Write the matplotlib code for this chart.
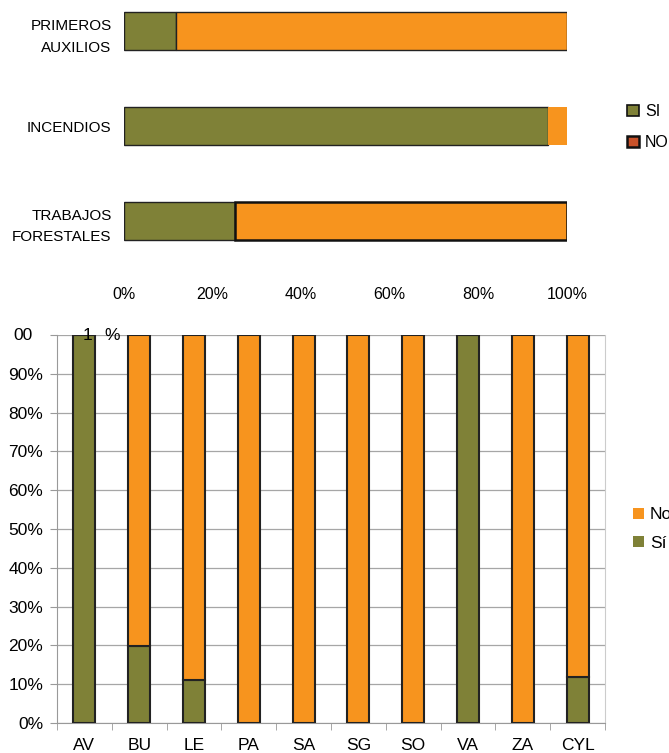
import matplotlib
matplotlib.use('Agg')
import matplotlib.pyplot as plt
from matplotlib.patches import Patch
import numpy as np

# datos del gráfico superior (% de formación)
top_categories = ['PRIMEROS\nAUXILIOS', 'INCENDIOS', 'TRABAJOS\nFORESTALES']
top_si = [11.7, 95.7, 25.0]
top_no = [88.3, 4.3, 75.0]

# datos del gráfico inferior (por provincia)
regions = ['AV', 'BU', 'LE', 'PA', 'SA', 'SG', 'SO', 'VA', 'ZA', 'CYL']
reg_si = [100, 19.8, 11.2, 0, 0, 0, 0, 100, 0, 11.8]
reg_no = [0, 80.2, 88.8, 100, 100, 100, 100, 0, 100, 88.2]

GREEN = '#7f8137'
ORANGE = '#f7941e'

plt.rcParams['font.family'] = ['Liberation Sans', 'DejaVu Sans']

W, H = 669, 753
fig = plt.figure(figsize=(W / 100, H / 100), dpi=100)


def px_axes(l, t, r, b):
    return fig.add_axes([l / W, 1 - b / H, (r - l) / W, (b - t) / H])


# ---------- gráfico superior ----------
ax1 = px_axes(124, 0, 567, 270)
y = np.arange(len(top_categories))
ax1.barh(y, top_si, height=0.4, color=GREEN, edgecolor='#222222', linewidth=1.0)
ax1.barh(y, top_no, left=top_si, height=0.4, color=ORANGE,
         edgecolor=['#222222', 'none', '#111111'], linewidth=[1.0, 0, 1.8])
ax1.set_xlim(0, 100)
ax1.set_ylim(2 + (270 - 221) / 95, -31.5 / 95)
ax1.set_xticks(np.arange(0, 101, 20))
ax1.set_xticklabels([f'{v}%' for v in range(0, 101, 20)], fontsize=11.5)
ax1.set_yticks(y)
ax1.set_yticklabels(top_categories, fontsize=11, linespacing=1.7)
ax1.tick_params(axis='both', length=0)
ax1.tick_params(axis='x', pad=12)
ax1.tick_params(axis='y', pad=9)
for s in ax1.spines.values():
    s.set_visible(False)

h_si = Patch(facecolor=GREEN, edgecolor='#111111', linewidth=1.2)
h_no = Patch(facecolor='#c9522a', edgecolor='#111111', linewidth=1.8)
fig.legend([h_si, h_no], ['SI', 'NO'], loc='center left',
           bbox_to_anchor=(613 / W, 1 - 127 / H), frameon=False,
           handlelength=0.7, handleheight=0.7, handletextpad=0.4,
           labelspacing=1.0, prop={'size': 11.5})

# ---------- gráfico inferior ----------
ax2 = px_axes(57, 335, 605, 723)
x = np.arange(len(regions))
ax2.bar(x, reg_si, width=0.4, color=GREEN, edgecolor='#222222', linewidth=1.5, zorder=3)
ax2.bar(x, reg_no, bottom=reg_si, width=0.4, color=ORANGE, edgecolor='#222222',
        linewidth=1.5, zorder=3)
ax2.set_xlim(-0.5, len(regions) - 0.5)
ax2.set_ylim(0, 100)
ax2.set_yticks(np.arange(0, 101, 10))
ylabels = [f'{v}%' for v in range(0, 101, 10)]
ylabels[-1] = ''
ax2.set_yticklabels(ylabels, fontsize=12.5)
ax2.set_xticks(x)
ax2.set_xticklabels(regions, fontsize=12.5)
ax2.set_xticks(np.arange(-0.5, len(regions), 1), minor=True)
ax2.tick_params(axis='x', which='major', length=0, pad=11)
ax2.tick_params(axis='x', which='minor', length=5, color='#999999')
ax2.tick_params(axis='y', length=5, color='#999999', pad=5)
ax2.grid(axis='y', color='#a6a6a6', linewidth=0.9, zorder=0)
ax2.set_axisbelow(True)
ax2.spines['top'].set_visible(False)
for s in ['left', 'bottom']:
    ax2.spines[s].set_color('#999999')
ax2.spines['right'].set_color('#cccccc')

# etiqueta 100% partida como en el original
fig.text(13 / W, 1 - 335 / H, '00', fontsize=12.5, ha='left', va='center')
fig.text(88 / W, 1 - 335 / H, '1', fontsize=12.5, ha='center', va='center', zorder=5)
fig.text(112 / W, 1 - 335 / H, '%', fontsize=12.5, ha='center', va='center', zorder=5)

h_no2 = Patch(facecolor=ORANGE, edgecolor='none')
h_si2 = Patch(facecolor=GREEN, edgecolor='none')
fig.legend([h_no2, h_si2], ['No', 'Sí'], loc='center left',
           bbox_to_anchor=(617 / W, 1 - 529 / H), frameon=False,
           handlelength=0.65, handleheight=0.65, handletextpad=0.35,
           labelspacing=0.75, prop={'size': 12.5})

fig.savefig('out.png', dpi=100)
